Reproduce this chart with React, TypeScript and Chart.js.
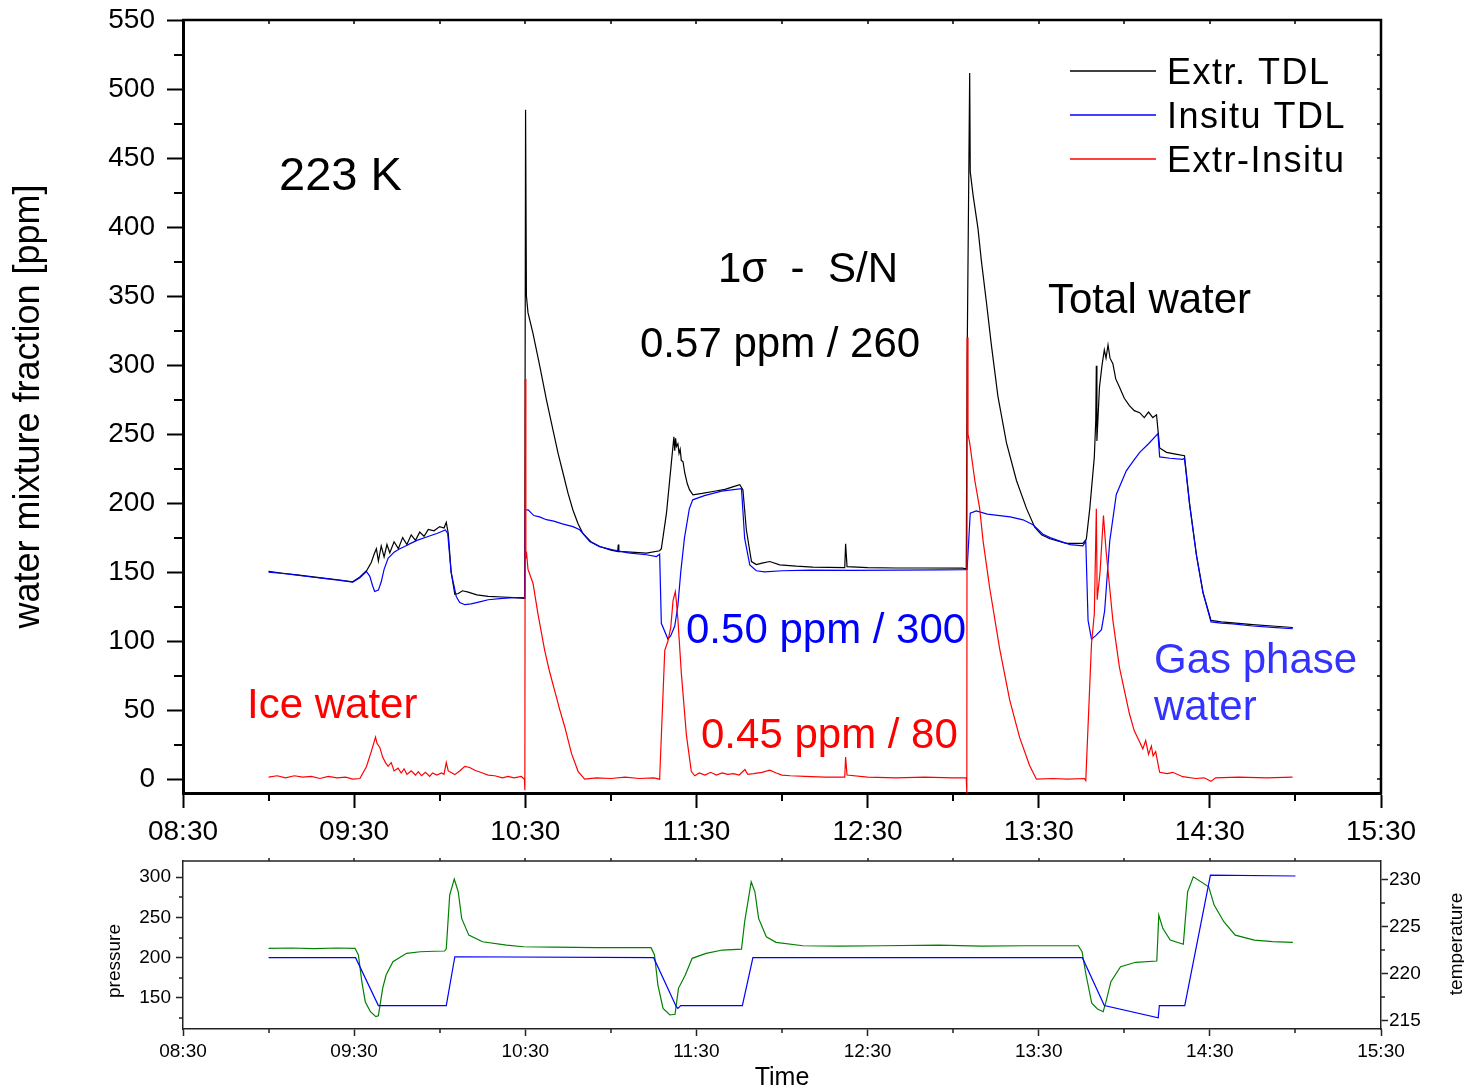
import React, { useEffect, useRef } from "react";
import { Chart, registerables } from "chart.js";

Chart.register(...registerables);

const FONT = '"Liberation Sans", Arial, Helvetica, sans-serif';

// ---- time axis (minutes after midnight: 08:30 = 510 ... 15:30 = 930) ----
const timeAxisMin = 510;
const timeAxisMax = 930;
const timeLabelStep = 60;
const timeMinorTicks = [540, 600, 660, 720, 780, 840, 900];
const timeTopTicks = [540, 570, 600, 630, 660, 690, 720, 750, 780, 810, 840, 870, 900];

// ---- main panel axis ----
const mixAxisMin = -10;
const mixAxisMax = 550;
const mixStep = 50;
const mixMinorTicks = [25, 75, 125, 175, 225, 275, 325, 375, 425, 475, 525];
const mixRightTicks = [0, 25, 50, 75, 100, 125, 150, 175, 200, 225, 250, 275, 300, 325, 350, 375, 400, 425, 450, 475, 500, 525];

// ---- lower panel axes ----
const pressureAxisMin = 111.5;
const pressureAxisMax = 320;
const pressureStep = 50;
const pressureMinorTicks = [125, 175, 225, 275];
const tempAxisMin = 214.1;
const tempAxisMax = 232;
const tempStep = 5;
const tempMinorTicks = [217.5, 222.5, 227.5];

// ---- Extr. TDL (black) ----
const extrTime = [
  540, 545, 550, 555, 560, 565, 569.5, 572, 574.5, 576, 577, 577.8, 578.5, 579.5, 580.5, 581.5, 582.5,
  584, 585.5, 587, 588.5, 590, 591.5, 593, 594.5, 596, 598, 600, 601.5, 602.3, 603, 604, 605.3, 606.5,
  608, 610, 613, 617, 622, 626, 629.8, 630.1, 630.4, 630.95, 632.7, 635.1, 637.4, 639.7, 641.5, 643.2,
  645, 646.7, 648.5, 650.2, 653, 656.1, 660, 662.4, 662.6, 662.8, 667, 672.5, 677.1, 677.7, 679.5,
  681.2, 682.1, 682.4, 682.7, 683, 683.5, 683.9, 684.3, 684.7, 685.3, 685.9, 686.8, 687.6, 688.8, 692,
  695.8, 700, 703, 705.2, 706.3, 707.5, 709.3, 711, 713, 715.7, 719.2, 725, 730.8, 742, 742.3, 742.8,
  750, 760, 770, 783.4, 784.6, 784.9, 785.8, 786.0, 787.0, 788.7, 789.9, 791.7, 793.4, 795.7, 798.7,
  802.2, 805.7, 808.6, 811, 813.9, 819.7, 825.5, 826.7, 827.9, 829.5, 830.0, 830.2, 830.4, 831.3, 832.2,
  833, 833.6, 834.3, 835, 836, 837, 838.3, 840, 841.8, 843.5, 845.4, 847, 848.5, 850, 851.3, 852.4,
  854.8, 858, 861.1, 862.9, 865.3, 867.6, 870.4, 874, 878.1, 885, 892, 899.1,
];
const extrValue = [
  150.5, 149.2, 148, 146.8, 145.5, 144.3, 143, 146.5, 151.5, 157, 163, 167, 158, 169, 161, 170, 164,
  172, 167, 175, 170, 177, 173, 179, 176, 181, 180, 183, 182, 186, 178, 150, 134, 134.5,
  136.5, 135.5, 133.5, 132.5, 132, 131.5, 131, 485, 350, 338, 323, 299, 275, 253, 236, 222,
  207, 195, 185, 178, 172, 168.6, 166, 165, 170, 165, 164.5, 163.8, 165.5, 167, 192.7,
  229, 248, 238, 247, 241, 243, 236, 239, 231, 230, 222, 214, 209.6, 206, 207,
  208.4, 210, 212, 213.3, 209.6, 180.7, 157.7, 155.5, 156.5, 157.7, 155.3, 154.3, 153.6, 153.3, 170.5, 154,
  153.3, 153, 153, 152.9, 152.2, 301, 511.6, 440, 423, 399, 375.5, 345, 314.6, 277.4, 243.7,
  216.4, 196.2, 182.6, 177, 174.2, 170.8, 170.8, 174, 196, 233.5, 260, 299.5, 245, 284, 300,
  311, 305, 314.6, 305, 301, 290, 284.2, 276, 270.6, 267, 265.5, 262, 266, 262, 264, 240,
  236.8, 235.5, 234.3, 199.5, 162.6, 135.3, 115, 114, 113.3, 112, 111, 109.9,
];

// ---- Insitu TDL (blue) ----
const insituTime = [
  540, 545, 550, 555, 560, 565, 569.5, 572, 574.3, 575.5, 576.5, 577.2, 578.5, 579.5, 580.5, 581.9,
  584, 586, 587.7, 590, 592, 595.9, 599, 602, 602.8, 604, 605.8, 607, 608.8, 611, 614, 617, 622, 626,
  629.8, 630.0, 631, 633, 635, 637.4, 640, 643, 646.7, 649.1, 652.6, 656, 660.7, 666, 672.5, 676,
  677.1, 677.7, 680, 681, 682.4, 683.5, 684.5, 685.8, 687.5, 688.7, 692.8, 698.8, 705.8, 706.9, 708.7,
  711, 713.9, 720, 730, 745, 760, 775, 784.6, 784.9, 786.0, 788.1, 792, 796.3, 800, 804.5, 808.0,
  811.5, 814, 817.4, 821, 825.5, 826.5, 827.3, 828.5, 830, 832.0, 833.1, 834.9, 837.2, 840.7, 843,
  845.4, 848.5, 851.8, 852.4, 856, 860.5, 861.1, 862.9, 865.3, 867.6, 870.4, 874, 878.1, 885, 892, 899.1,
];
const insituValue = [
  150, 149, 147.8, 146.5, 145.3, 144, 142.8, 146, 150.5, 147, 140, 136, 137, 143, 152, 160,
  164.5, 167, 168.6, 171, 173, 175.8, 178, 180.5, 178, 150, 132.4, 128, 126.4, 127, 128.5, 130, 131, 131.5,
  131.5, 195, 195.2, 191, 190, 188, 187, 185, 183, 180.7, 172.2, 168.5, 166.2, 164, 162.6, 161.3,
  163, 112.9, 101.5, 104, 111, 125.8, 150, 174.6, 195.9, 202.4, 205.4, 208.7, 210.4, 174.6, 155.3,
  151, 150.2, 151, 151.5, 151.3, 151.5, 151.6, 151.8, 152, 192.8, 194.4, 192, 191, 190, 187.9, 184.3,
  177.5, 175, 172.5, 170, 169, 172.5, 115, 101.4, 104, 108.3, 121.7, 172.5, 206.3, 223.4, 230,
  236.8, 243, 250.3, 233.5, 232.5, 231.7, 232.5, 199, 162, 135, 114, 113, 112.5, 111, 110, 109,
];

// ---- Extr-Insitu (red) ----
const diffTime = [
  540, 543, 546, 549, 552, 555, 558, 561, 564, 567, 569.5, 572, 574.3, 576, 577.5, 578, 579, 580, 581,
  581.9, 583, 584, 585.4, 586.5, 587.5, 588.5, 590, 591.5, 592.5, 593.6, 595, 596.5, 597.5, 599, 600.6,
  601.5, 602.3, 603, 605.3, 607, 608.8, 610.5, 612.3, 615, 617, 619.3, 622, 624, 626, 628.6, 629.7,
  629.85, 630.0, 630.2, 630.4, 630.95, 632.7, 634.5, 636.8, 638.5, 640.3, 642, 643.8, 646.2, 648.5,
  650.8, 655, 660, 665, 670, 675, 677.1, 678.9, 680, 681, 681.8, 682.6, 683, 683.5, 684.7, 686.5,
  688.2, 689.4, 691, 693, 695, 697, 699, 701, 703, 705, 707, 708, 710, 713, 715.7, 718, 720, 723, 728,
  735, 742, 742.3, 742.8, 750, 760, 770, 780, 784.6, 784.8, 784.9, 785.2, 785.8, 787.6, 789.3, 790.5,
  792.8, 796.3, 799.8, 803.3, 806.8, 809.2, 815, 820, 826, 826.5, 828.5, 829.5, 830.2, 830.5, 831.5,
  832.7, 833.6, 836.0, 838.3, 841.8, 843.5, 845.4, 846.5, 847.5, 848.5, 849.5, 850.1, 851, 852.4, 855,
  857, 860.5, 865, 868, 870.4, 872, 880, 890, 899,
];
const diffValue = [
  1.5, 2.5, 1, 2.5, 1.5, 2, 0.5, 2, 1, 1.5, 0, 0.5, 9, 20, 30.5, 26, 23, 16, 12,
  9.3, 12, 6, 8, 4.5, 7.5, 3.5, 6, 3, 5.5, 2.5, 5, 2, 4.5, 3, 4.5,
  3.5, 12, 6, 3.3, 6, 9.3, 8.5, 6.5, 4.5, 3, 2.5, 1, 2, 1, 2, 0,
  -8, 290, 160, 165, 152, 142, 119, 93.4, 78, 64.2, 51, 38.2, 18.7, 5.7,
  0, 1, 0.5, 1.5, 0.5, 1, 0, 93.4, 99.9, 110, 129.3, 135.8, 128, 116, 77, 31.7,
  5.7, 2.5, 4.5, 3, 5, 3, 4.5, 3.5, 4, 3, 7, 3.5, 4, 5, 6.5, 4.5, 3, 2.5, 2,
  1.5, 1.5, 16, 3, 1.5, 1, 1.5, 1, 1, -10, 320, 250, 243.7, 216.4, 196.2, 172.5,
  138.7, 94.6, 57.6, 30.3, 10, 0, 0.5, 0, 0.5, -1, 98, 120, 196, 130, 150,
  191, 165.7, 115, 81, 47.4, 35, 27, 22, 28, 18, 24, 17, 20, 5, 4,
  5, 1.8, 0.5, 1, -1.6, 1, 1.5, 1, 1.5,
];

// ---- pressure (green, left axis of lower panel) ----
const pressureTime = [
  540, 548, 556, 564, 570.3, 571.5, 572.7, 573.9, 575.7, 577.6, 578.5, 580.0, 581.2, 583.6, 588.4,
  593.2, 598, 601.7, 602.3, 603.5, 605.1, 606.5, 607.7, 610.2, 615, 623.4, 629.4, 640, 655, 674.1,
  675.3, 676.5, 678.3, 680.7, 682.5, 683.7, 686.1, 688.5, 693.4, 699.1, 705.8, 706.9, 709.2, 710.5,
  711.8, 714.5, 717.9, 727.3, 740, 755, 775, 790, 805, 823.9, 825.2, 826.6, 828.6, 830.6, 832.6,
  833.6, 835.3, 838.7, 844, 851.4, 852.1, 853.5, 856.1, 860.7, 862.2, 864.2, 869.6, 871.5, 874.9,
  878.9, 885.6, 892, 899.1,
];
const pressureValue = [
  211.5, 212, 211.3, 212, 211.6, 203.3, 170, 145.4, 133, 126.8, 128, 162, 178.5, 195, 205.4,
  207.4, 208, 208.3, 211, 277.7, 297.5, 281.8, 248.8, 228, 219.8, 215.7, 213.6, 213, 212.5, 212.4,
  203.3, 166, 137, 128.9, 129.8, 162, 178.5, 199.2, 205.4, 209.5, 210.7, 244.6, 294.2, 281.8,
  248.8, 226, 219, 214.8, 214.3, 214.8, 215.5, 214.3, 214.8, 214.8, 207.4, 178.5, 143.4, 136.4, 133,
  145.4, 170.2, 188.8, 194.3, 195.9, 252.9, 236.4, 221.9, 216.6, 281.8, 300.4, 288, 265.3, 244.6,
  228, 221.9, 220, 219,
];

// ---- temperature (blue, right axis of lower panel) ----
const tempTime = [540, 570.5, 578.5, 602.3, 605.3, 675, 682.9, 683.5, 684.5, 706.1, 709.8, 825.3, 833, 851.9, 852.3, 861.2, 870.2, 900];
const tempValue = [221.7, 221.7, 216.6, 216.6, 221.8, 221.7, 216.5, 216.3, 216.6, 216.6, 221.7, 221.7, 216.6, 215.3, 216.6, 216.6, 230.5, 230.4];

// ---- legend + annotations (canvas pixel positions, text baseline) ----
const legendItems = [
  { text: "Extr. TDL", color: "#000000" },
  { text: "Insitu TDL", color: "#0000ff" },
  { text: "Extr-Insitu", color: "#ff0000" },
];
const legendLayout = { lineX0: 1070, lineX1: 1156, textX: 1167, firstY: 71, rowGap: 44, size: 36, spacing: "1.5px" };

const mainNotes = [
  { text: "223 K", x: 279, y: 190, size: 47, color: "#000000" },
  { text: "1σ  -  S/N", x: 718, y: 282, size: 42, color: "#000000" },
  { text: "0.57 ppm / 260", x: 640, y: 357, size: 42, color: "#000000" },
  { text: "Total water", x: 1048, y: 313, size: 42, color: "#000000" },
  { text: "Ice water", x: 247, y: 718, size: 42, color: "#ff0000" },
  { text: "0.50 ppm / 300", x: 686, y: 643, size: 42, color: "#0000ff" },
  { text: "0.45 ppm / 80", x: 701, y: 748, size: 42, color: "#ff0000" },
  { text: "Gas phase", x: 1154, y: 673, size: 42, color: "#3333ff" },
  { text: "water", x: 1154, y: 720, size: 42, color: "#3333ff" },
];

const pts = (t: number[], v: number[]) => t.map((x, i) => ({ x, y: v[i] }));
const two = (n: number) => String(n).padStart(2, "0");
const fmtTime = (val: number | string) => {
  const v = Number(val);
  const h = Math.floor(v / 60);
  const m = Math.round(v - h * 60);
  return `${two(h)}:${two(m)}`;
};

const fitY = (w: number) => (s: any) => {
  s.width = w;
  s.paddingTop = 0;
  s.paddingBottom = 0;
};
const fitX = (h: number) => (s: any) => {
  s.height = h;
  s.paddingLeft = 0;
  s.paddingRight = 0;
};

const mainDecor = {
  id: "mainDecor",
  afterDraw(chart: any) {
    const { ctx, chartArea, scales } = chart;
    const { left, right, top, bottom } = chartArea;
    const x = scales.x;
    const y = scales.y;
    ctx.save();
    ctx.strokeStyle = "#000";
    // frame top + right
    ctx.lineWidth = 2.5;
    ctx.beginPath();
    ctx.moveTo(left - 1, top);
    ctx.lineTo(right, top);
    ctx.lineTo(right, bottom + 1);
    ctx.stroke();
    // minor ticks
    ctx.lineWidth = 2;
    ctx.beginPath();
    for (const v of mixMinorTicks) {
      const p = Math.round(y.getPixelForValue(v));
      ctx.moveTo(left - 9, p);
      ctx.lineTo(left, p);
    }
    for (const t of timeMinorTicks) {
      const p = Math.round(x.getPixelForValue(t));
      ctx.moveTo(p, bottom);
      ctx.lineTo(p, bottom + 8);
    }
    ctx.stroke();
    ctx.lineWidth = 1.5;
    ctx.beginPath();
    for (const t of timeTopTicks) {
      const p = Math.round(x.getPixelForValue(t));
      ctx.moveTo(p, top);
      ctx.lineTo(p, top + 4);
    }
    for (const v of mixRightTicks) {
      const p = Math.round(y.getPixelForValue(v));
      ctx.moveTo(right - 4, p);
      ctx.lineTo(right, p);
    }
    ctx.stroke();
    // legend
    legendItems.forEach((it, i) => {
      const ly = legendLayout.firstY + i * legendLayout.rowGap;
      ctx.strokeStyle = it.color;
      ctx.lineWidth = 1.3;
      ctx.beginPath();
      ctx.moveTo(legendLayout.lineX0, ly);
      ctx.lineTo(legendLayout.lineX1, ly);
      ctx.stroke();
      ctx.fillStyle = "#000";
      ctx.font = `${legendLayout.size}px ${FONT}`;
      ctx.textBaseline = "alphabetic";
      ctx.textAlign = "left";
      (ctx as any).letterSpacing = legendLayout.spacing;
      ctx.fillText(it.text, legendLayout.textX, ly + 13);
      (ctx as any).letterSpacing = "0px";
    });
    // annotations
    for (const n of mainNotes) {
      ctx.fillStyle = n.color;
      ctx.font = `${n.size}px ${FONT}`;
      ctx.textBaseline = "alphabetic";
      ctx.textAlign = "left";
      ctx.fillText(n.text, n.x, n.y);
    }
    ctx.restore();
  },
};

const subDecor = {
  id: "subDecor",
  afterDraw(chart: any) {
    const { ctx, chartArea, scales } = chart;
    const { left, right, top, bottom } = chartArea;
    const x = scales.x;
    const yp = scales.y;
    const yt = scales.y1;
    ctx.save();
    ctx.strokeStyle = "#222";
    ctx.lineWidth = 1.5;
    ctx.beginPath();
    ctx.moveTo(left, top);
    ctx.lineTo(right, top);
    ctx.stroke();
    ctx.beginPath();
    for (const v of pressureMinorTicks) {
      const p = Math.round(yp.getPixelForValue(v));
      ctx.moveTo(left - 4, p);
      ctx.lineTo(left, p);
    }
    for (const v of tempMinorTicks) {
      const p = Math.round(yt.getPixelForValue(v));
      ctx.moveTo(right, p);
      ctx.lineTo(right + 4, p);
    }
    for (const t of timeMinorTicks) {
      const p = Math.round(x.getPixelForValue(t));
      ctx.moveTo(p, bottom);
      ctx.lineTo(p, bottom + 4);
    }
    for (const t of timeTopTicks) {
      const p = Math.round(x.getPixelForValue(t));
      ctx.moveTo(p, top);
      ctx.lineTo(p, top - 3);
    }
    ctx.stroke();
    // rotated axis titles
    ctx.fillStyle = "#000";
    ctx.font = `19px ${FONT}`;
    ctx.textAlign = "center";
    ctx.textBaseline = "alphabetic";
    ctx.save();
    ctx.translate(120, 111);
    ctx.rotate(-Math.PI / 2);
    ctx.fillText("pressure", 0, 0);
    ctx.restore();
    ctx.save();
    ctx.translate(1462, 94);
    ctx.rotate(-Math.PI / 2);
    ctx.fillText("temperature", 0, 0);
    ctx.restore();
    ctx.restore();
  },
};

export default function App() {
  const mainRef = useRef<HTMLCanvasElement | null>(null);
  const subRef = useRef<HTMLCanvasElement | null>(null);

  useEffect(() => {
    const tickFont = { family: FONT, size: 28 };
    const main = new Chart(mainRef.current as HTMLCanvasElement, {
      type: "line",
      data: {
        datasets: [
          { label: "Extr. TDL", data: pts(extrTime, extrValue), borderColor: "#000000", borderWidth: 1.2, pointRadius: 0, order: 2 },
          { label: "Insitu TDL", data: pts(insituTime, insituValue), borderColor: "#0000ff", borderWidth: 1.2, pointRadius: 0, order: 1 },
          { label: "Extr-Insitu", data: pts(diffTime, diffValue), borderColor: "#ff0000", borderWidth: 1.2, pointRadius: 0, order: 0 },
        ],
      },
      options: {
        animation: false,
        responsive: false,
        events: [],
        layout: { padding: { left: 0, top: 20, right: 83, bottom: 0 } },
        elements: { line: { tension: 0 }, point: { radius: 0 } },
        plugins: { legend: { display: false }, tooltip: { enabled: false }, title: { display: false } },
        scales: {
          x: {
            type: "linear",
            min: timeAxisMin,
            max: timeAxisMax,
            afterFit: fitX(57),
            ticks: { stepSize: timeLabelStep, callback: (v: any) => fmtTime(v), font: tickFont, color: "#000", padding: 7, maxRotation: 0, autoSkip: false, includeBounds: false },
            grid: { display: true, drawOnChartArea: false, drawTicks: true, tickLength: 15, tickWidth: 2, tickColor: "#000" },
            border: { display: true, width: 3, color: "#000" },
          },
          y: {
            type: "linear",
            min: mixAxisMin,
            max: mixAxisMax,
            afterFit: fitY(183),
            ticks: { stepSize: mixStep, font: tickFont, color: "#000", padding: 12, includeBounds: false },
            grid: { display: true, drawOnChartArea: false, drawTicks: true, tickLength: 16, tickWidth: 2, tickColor: "#000" },
            border: { display: true, width: 3, color: "#000" },
            title: { display: true, text: "water mixture fraction [ppm]", color: "#000", font: { family: FONT, size: 36 }, padding: { top: 7, bottom: 0 } },
          },
        },
      } as any,
      plugins: [mainDecor],
    });

    const smallFont = { family: FONT, size: 19 };
    const sub = new Chart(subRef.current as HTMLCanvasElement, {
      type: "line",
      data: {
        datasets: [
          { label: "temperature", data: pts(tempTime, tempValue), borderColor: "#0000ff", borderWidth: 1.2, pointRadius: 0, yAxisID: "y1", order: 0 },
          { label: "pressure", data: pts(pressureTime, pressureValue), borderColor: "#008000", borderWidth: 1.2, pointRadius: 0, yAxisID: "y", order: 1 },
        ],
      },
      options: {
        animation: false,
        responsive: false,
        events: [],
        layout: { padding: { left: 0, top: 11, right: 0, bottom: 0 } },
        elements: { line: { tension: 0 }, point: { radius: 0 } },
        plugins: { legend: { display: false }, tooltip: { enabled: false } },
        scales: {
          x: {
            type: "linear",
            min: timeAxisMin,
            max: timeAxisMax,
            afterFit: fitX(62),
            ticks: { stepSize: timeLabelStep, callback: (v: any) => fmtTime(v), font: smallFont, color: "#000", padding: 4, maxRotation: 0, autoSkip: false, includeBounds: false },
            grid: { display: true, drawOnChartArea: false, drawTicks: true, tickLength: 7, tickWidth: 1.5, tickColor: "#222" },
            border: { display: true, width: 1.5, color: "#222" },
            title: { display: true, text: "Time", color: "#000", font: { family: FONT, size: 25, lineHeight: 1 }, padding: 0 },
          },
          y: {
            type: "linear",
            position: "left",
            min: pressureAxisMin,
            max: pressureAxisMax,
            afterFit: fitY(183),
            ticks: { stepSize: pressureStep, font: smallFont, color: "#000", padding: 5, includeBounds: false },
            grid: { display: true, drawOnChartArea: false, drawTicks: true, tickLength: 7, tickWidth: 1.5, tickColor: "#222" },
            border: { display: true, width: 1.5, color: "#222" },
          },
          y1: {
            type: "linear",
            position: "right",
            min: tempAxisMin,
            max: tempAxisMax,
            afterFit: fitY(83),
            ticks: { stepSize: tempStep, font: smallFont, color: "#000", padding: 1, includeBounds: false },
            grid: { display: true, drawOnChartArea: false, drawTicks: true, tickLength: 7, tickWidth: 1.5, tickColor: "#222" },
            border: { display: true, width: 1.5, color: "#222" },
          },
        },
      } as any,
      plugins: [subDecor],
    });

    return () => {
      main.destroy();
      sub.destroy();
    };
  }, []);

  return (
    <div style={{ position: "absolute", left: 0, top: 0, width: 1464, height: 1091, background: "#ffffff" }}>
      <canvas ref={mainRef} width={1464} height={850} style={{ position: "absolute", left: 0, top: 0, width: 1464, height: 850 }} />
      <canvas ref={subRef} width={1464} height={241} style={{ position: "absolute", left: 0, top: 850, width: 1464, height: 241 }} />
    </div>
  );
}
